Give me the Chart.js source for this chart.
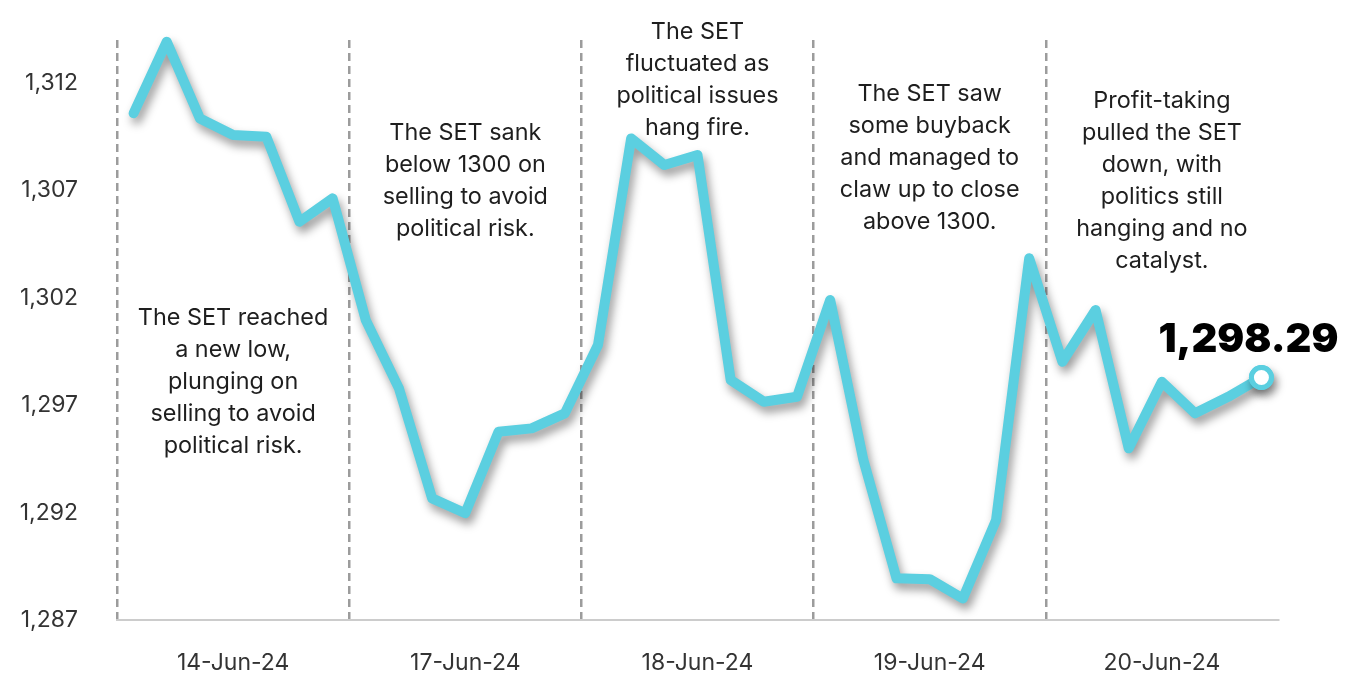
<!DOCTYPE html>
<html>
<head>
<meta charset="utf-8">
<script src="https://cdn.jsdelivr.net/npm/chart.js@4"></script>
<style>
  html, body { margin: 0; padding: 0; background: #fff; }
  #wrap { width: 1345px; height: 674px; }
</style>
</head>
<body>
<div id="wrap"><canvas id="grafico"></canvas></div>
<script>
const dias = ["14-Jun-24", "17-Jun-24", "18-Jun-24", "19-Jun-24", "20-Jun-24"];
const pontosPorDia = 7;
const setIndex = [
  1310.59, 1313.92, 1310.35, 1309.58, 1309.50, 1305.54, 1306.63,
  1300.96, 1297.78, 1292.66, 1291.97, 1295.76, 1295.92, 1296.62,
  1299.80, 1309.42, 1308.18, 1308.65, 1298.17, 1297.16, 1297.39,
  1301.90, 1294.45, 1288.94, 1288.90, 1288.00, 1291.65, 1303.84,
  1299.02, 1301.43, 1294.99, 1298.09, 1296.62, 1297.39, 1298.29
];
const yTicks = [1287, 1292, 1297, 1302, 1307, 1312];
const yMin = 1287;
const yMax = 1314;

const notas = [
  ["The SET reached", "a new low,", "plunging on", "selling to avoid", "political risk."],
  ["The SET sank", "below 1300 on", "selling to avoid", "political risk."],
  ["The SET", "fluctuated as", "political issues", "hang fire."],
  ["The SET saw", "some buyback", "and managed to", "claw up to close", "above 1300."],
  ["Profit-taking", "pulled the SET", "down, with", "politics still", "hanging and no", "catalyst."]
];
// where the first line of each note sits, on the y scale
const notasY = [1301.06, 1309.67, 1314.37, 1311.49, 1311.16];

const labels = dias.flatMap(d => Array(pontosPorDia).fill(d));
const cor = "#5bcfe0";

Chart.defaults.font.family = "Inter";

const sombra = {
  id: "sombra",
  beforeDatasetsDraw(chart) {
    const ctx = chart.ctx;
    ctx.save();
    ctx.shadowColor = "rgba(0,0,0,0.4)";
    ctx.shadowBlur = 10;
    ctx.shadowOffsetX = 3;
    ctx.shadowOffsetY = 6;
  },
  afterDatasetsDraw(chart) {
    chart.ctx.restore();
    // redraw the last point without shadow so it stays white inside
    const meta = chart.getDatasetMeta(0);
    meta.data[meta.data.length - 1].draw(chart.ctx, chart.chartArea);
  }
};

const textos = {
  id: "textos",
  afterDraw(chart) {
    const { ctx, scales: { x, y } } = chart;
    ctx.save();
    ctx.font = "23.4px Inter";
    ctx.fillStyle = "#1e1e1e";
    ctx.textAlign = "center";
    ctx.textBaseline = "middle";
    notas.forEach((linhas, d) => {
      const cx = (x.getPixelForValue(d * pontosPorDia) + x.getPixelForValue(d * pontosPorDia + pontosPorDia - 1)) / 2;
      const y0 = y.getPixelForValue(notasY[d]);
      linhas.forEach((l, i) => ctx.fillText(l, cx, y0 + i * 32));
    });

    const meta = chart.getDatasetMeta(0);
    const p = meta.data[meta.data.length - 1];
    const ultimo = setIndex[setIndex.length - 1];
    ctx.font = "900 40px Inter";
    ctx.fillStyle = "#000";
    ctx.textBaseline = "alphabetic";
    ctx.fillText(ultimo.toLocaleString("en-US", { minimumFractionDigits: 2 }), p.x - 13, p.y - 25);
    ctx.restore();
  }
};

const ctx = document.getElementById("grafico").getContext("2d");
const grafico = new Chart(ctx, {
  type: "line",
  data: {
    labels,
    datasets: [{
      data: setIndex,
      borderColor: cor,
      borderWidth: 10,
      borderJoinStyle: "round",
      borderCapStyle: "round",
      tension: 0,
      clip: false,
      pointRadius: c => c.dataIndex === setIndex.length - 1 ? 10 : 0,
      pointHoverRadius: 10,
      pointBackgroundColor: "#fff",
      pointBorderColor: cor,
      pointBorderWidth: 5
    }]
  },
  options: {
    responsive: true,
    maintainAspectRatio: false,
    animation: false,
    layout: { padding: { top: 40, right: 67, bottom: 0, left: 0 } },
    plugins: {
      legend: { display: false },
      tooltip: { enabled: false }
    },
    scales: {
      x: {
        type: "category",
        offset: true,
        grid: {
          display: true,
          offset: true,
          drawTicks: false,
          lineWidth: 2.5,
          color: c => c.index % pontosPorDia === 0 ? "#9c9c9c" : "transparent"
        },
        border: { display: true, color: "#cccccc", width: 2, dash: [8, 5] },
        ticks: {
          autoSkip: false,
          maxRotation: 0,
          padding: 29,
          color: "#333",
          font: { size: 23 },
          callback: (v, i) => i % pontosPorDia === 3 ? labels[i] : ""
        },
        afterFit: s => { s.height = 54; s.paddingLeft = 0; s.paddingRight = 0; }
      },
      y: {
        min: yMin,
        max: yMax,
        afterBuildTicks: s => { s.ticks = yTicks.map(v => ({ value: v })); },
        grid: { display: false, drawTicks: false },
        border: { display: false },
        ticks: {
          padding: 39,
          color: "#333",
          font: { size: 23 },
          callback: v => v.toLocaleString("en-US")
        },
        afterFit: s => { s.width = 117; s.paddingTop = 0; s.paddingBottom = 0; }
      }
    }
  },
  plugins: [sombra, textos]
});
</script>
</body>
</html>
